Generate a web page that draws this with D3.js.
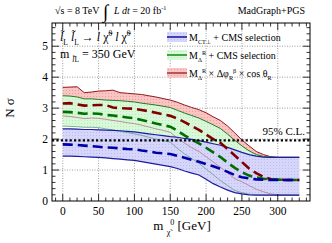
<!DOCTYPE html>
<html>
<head>
<meta charset="utf-8">
<script src="https://cdn.jsdelivr.net/npm/d3@7"></script>
<style>
  body { margin: 0; background: #fff; }
  svg { display: block; }
  text { font-family: 'Liberation Serif', 'Times New Roman', serif; }
</style>
</head>
<body>
<div id="chart"></div>
<script>
// neutralino mass points [GeV]
var massPoints = [0,10,20,30,40,50,60,70,80,90,100,110,120,130,140,150,160,170,180,190,200,210,220,230,240,250,260,270,280,290,300,310,320,330];

// M_Delta^R x dphi x cos theta (red)
var redUp   = [3.67,3.68,3.69,3.50,3.52,3.55,3.56,3.58,3.50,3.48,3.46,3.44,3.40,3.36,3.31,3.26,3.19,3.10,3.02,2.95,2.85,2.72,2.60,2.42,2.20,1.97,1.78,1.60,1.50,1.43,1.41,1.41,1.41,1.41];
var redMid  = [3.15,3.16,3.12,3.08,3.09,3.10,3.10,3.02,3.00,2.99,2.98,2.94,2.90,2.85,2.80,2.75,2.66,2.55,2.42,2.30,2.15,2.00,1.88,1.68,1.47,1.26,1.05,0.90,0.78,0.71,0.69,0.68,0.68,0.68];
var redLow  = [2.75,2.73,2.70,2.66,2.68,2.67,2.64,2.60,2.57,2.53,2.50,2.45,2.39,2.33,2.28,2.22,2.03,1.87,1.72,1.60,1.43,1.26,1.09,0.91,0.72,0.62,0.50,0.38,0.30,0.23,0.20,0.19,0.19,0.19];

// M_Delta^R + CMS selection (green)
var greenUp  = [3.40,3.39,3.36,3.30,3.30,3.28,3.26,3.25,3.24,3.22,3.20,3.16,3.13,3.10,3.06,3.02,2.93,2.84,2.76,2.68,2.57,2.46,2.34,2.16,1.96,1.78,1.62,1.50,1.44,1.42,1.41,1.41,1.41,1.41];
var greenMid = [2.88,2.87,2.85,2.82,2.83,2.82,2.78,2.76,2.73,2.70,2.67,2.62,2.56,2.50,2.45,2.40,2.27,2.12,1.98,1.86,1.72,1.57,1.42,1.24,1.07,0.93,0.82,0.76,0.72,0.70,0.69,0.68,0.68,0.68];
var greenLow = [2.42,2.41,2.40,2.38,2.38,2.37,2.33,2.29,2.25,2.21,2.17,2.12,2.06,2.00,1.95,1.90,1.70,1.52,1.37,1.22,1.03,0.85,0.66,0.50,0.34,0.27,0.22,0.20,0.19,0.19,0.19,0.19,0.19,0.19];

// M_CT_perp + CMS selection (blue)
var blueUp  = [2.33,2.33,2.32,2.31,2.31,2.30,2.29,2.28,2.27,2.25,2.23,2.20,2.17,2.14,2.11,2.08,2.06,2.02,1.99,1.95,1.90,1.85,1.80,1.73,1.65,1.57,1.50,1.45,1.42,1.41,1.41,1.41,1.41,1.41];
var blueMid = [1.83,1.82,1.81,1.79,1.77,1.75,1.73,1.72,1.70,1.68,1.67,1.63,1.60,1.56,1.54,1.52,1.46,1.40,1.33,1.27,1.19,1.12,1.04,0.94,0.84,0.77,0.73,0.70,0.69,0.68,0.68,0.68,0.68,0.68];
var blueLow = [1.45,1.45,1.44,1.43,1.42,1.41,1.39,1.37,1.35,1.33,1.31,1.27,1.23,1.19,1.15,1.11,1.05,0.97,0.90,0.84,0.70,0.56,0.45,0.35,0.27,0.23,0.20,0.19,0.19,0.19,0.19,0.19,0.19,0.19];

var clLevel = 1.96;
var xTicks = [0,50,100,150,200,250,300];
var yTicks = [0,1,2,3,4,5];

var W = 332, H = 243;
var frame = { left: 52, right: 310, top: 23, bottom: 201 };

var svg = d3.select('#chart').append('svg')
    .attr('width', W).attr('height', H);

var x = d3.scaleLinear().domain([-15, 345]).range([frame.left, frame.right]);
var y = d3.scaleLinear().domain([0, 5.75]).range([frame.bottom, frame.top]);

// pattern fills, like ROOT's hatched bands
function makePattern(id, base, lineCol) {
    var p = svg.append('defs').append('pattern')
        .attr('id', id).attr('patternUnits', 'userSpaceOnUse')
        .attr('width', 3).attr('height', 3);
    p.append('rect').attr('width', 3).attr('height', 3).attr('fill', base);
    p.append('rect').attr('x', 0).attr('y', 0).attr('width', 1).attr('height', 1).attr('fill', lineCol);
}
makePattern('fRed', '#fbc4c4', '#f29a9a');
makePattern('fGreen', '#d9f7d9', '#b9ecb9');
makePattern('fBlue', '#d6d6fb', '#bcbcf3');

// grid
var grid = svg.append('g');
xTicks.forEach(function(t) {
    grid.append('line').attr('x1', x(t)).attr('x2', x(t))
        .attr('y1', frame.top).attr('y2', frame.bottom)
        .attr('stroke', '#777').attr('stroke-width', 0.7).attr('stroke-dasharray', '1,1.5');
});
yTicks.slice(1).forEach(function(t) {
    grid.append('line').attr('x1', frame.left).attr('x2', frame.right)
        .attr('y1', y(t)).attr('y2', y(t))
        .attr('stroke', '#777').attr('stroke-width', 0.7).attr('stroke-dasharray', '1,1.5');
});

function band(up, low) {
    return d3.area()
        .x(function(d, i) { return x(massPoints[i]); })
        .y0(function(d, i) { return y(low[i]); })
        .y1(function(d, i) { return y(up[i]); })(up);
}
function line(vals) {
    return d3.line()
        .x(function(d, i) { return x(massPoints[i]); })
        .y(function(d) { return y(d); })(vals);
}

var plot = svg.append('g');
plot.append('path').attr('d', band(redUp, redLow)).attr('fill', 'url(#fRed)');
plot.append('path').attr('d', band(greenUp, greenLow)).attr('fill', 'url(#fGreen)');
plot.append('path').attr('d', band(blueUp, blueLow)).attr('fill', 'url(#fBlue)');

// band edges
plot.append('path').attr('d', line(redLow)).attr('fill', 'none').attr('stroke', '#b07a86').attr('stroke-width', 0.8);
plot.append('path').attr('d', line(greenLow)).attr('fill', 'none').attr('stroke', '#5fa08a').attr('stroke-width', 0.8);
plot.append('path').attr('d', line(redUp)).attr('fill', 'none').attr('stroke', '#8b1a1a').attr('stroke-width', 1);
plot.append('path').attr('d', line(greenUp)).attr('fill', 'none').attr('stroke', '#1f7f1f').attr('stroke-width', 1);
plot.append('path').attr('d', line(blueUp)).attr('fill', 'none').attr('stroke', '#1c1ca0').attr('stroke-width', 1.2);
plot.append('path').attr('d', line(blueLow)).attr('fill', 'none').attr('stroke', '#1c1ca0').attr('stroke-width', 1.2);

// means (dashed)
plot.append('path').attr('d', line(redMid)).attr('fill', 'none').attr('stroke', '#800000').attr('stroke-width', 2.6).attr('stroke-dasharray', '10,5');
plot.append('path').attr('d', line(greenMid)).attr('fill', 'none').attr('stroke', '#006e00').attr('stroke-width', 2.6).attr('stroke-dasharray', '10,5');
plot.append('path').attr('d', line(blueMid)).attr('fill', 'none').attr('stroke', '#0000a8').attr('stroke-width', 2.6).attr('stroke-dasharray', '10,5');

// 95% CL line
svg.append('line').attr('x1', frame.left).attr('x2', frame.right)
    .attr('y1', y(clLevel)).attr('y2', y(clLevel))
    .attr('stroke', '#000').attr('stroke-width', 2.4).attr('stroke-dasharray', '2.2,2.2');
svg.append('text').attr('x', 305).attr('y', y(clLevel) - 5)
    .attr('text-anchor', 'end').attr('font-size', 11).text('95% C.L.');

// frame + ticks
svg.append('rect').attr('x', frame.left).attr('y', frame.top)
    .attr('width', frame.right - frame.left).attr('height', frame.bottom - frame.top)
    .attr('fill', 'none').attr('stroke', '#000').attr('stroke-width', 1);

var ticks = svg.append('g').attr('stroke', '#000').attr('stroke-width', 0.8);
for (var v = -10; v <= 340; v += 10) {
    var big = v % 50 === 0;
    var len = big ? 7 : 3.5;
    ticks.append('line').attr('x1', x(v)).attr('x2', x(v)).attr('y1', frame.bottom).attr('y2', frame.bottom - len);
    ticks.append('line').attr('x1', x(v)).attr('x2', x(v)).attr('y1', frame.top).attr('y2', frame.top + len);
}
for (var k = 1; k <= 28; k++) {
    var yv = k * 0.2;
    var bigY = k % 5 === 0;
    var lenY = bigY ? 7 : 3.5;
    ticks.append('line').attr('x1', frame.left).attr('x2', frame.left + lenY).attr('y1', y(yv)).attr('y2', y(yv));
    ticks.append('line').attr('x1', frame.right).attr('x2', frame.right - lenY).attr('y1', y(yv)).attr('y2', y(yv));
}

xTicks.forEach(function(t) {
    svg.append('text').attr('x', x(t)).attr('y', 215).attr('text-anchor', 'middle')
        .attr('font-size', 11.5).text(t);
});
yTicks.forEach(function(t) {
    svg.append('text').attr('x', 48).attr('y', y(t) + 4).attr('text-anchor', 'end')
        .attr('font-size', 11.5).text(t);
});

// rich text helper: parts = [[text, 'sub'|'sup'|null, italic]]
function rich(g, px, py, parts, size, anchor) {
    var t = g.append('text').attr('x', px).attr('y', py).attr('font-size', size);
    if (anchor) t.attr('text-anchor', anchor);
    var shift = 0;
    parts.forEach(function(p) {
        var ts = t.append('tspan').text(p[0]);
        var target = p[1] === 'sub' ? size * 0.35 : p[1] === 'sup' ? -size * 0.4 : 0;
        ts.attr('dy', target - shift);
        shift = target;
        if (p[1]) ts.attr('font-size', size * 0.62);
        if (p[2]) ts.attr('font-style', 'italic');
    });
    return t;
}

// axis titles
svg.append('text').attr('transform', 'translate(14,108) rotate(-90)')
    .attr('text-anchor', 'middle').attr('font-size', 13).text('N σ');
rich(svg, 182, 230, [['m ', null], ['χ̃', 'sub'], ['0', 'sup'], [' [GeV]', null]], 13, 'middle');

// header
rich(svg, 55, 14, [['√s = 8 TeV ', null]], 10);
svg.append('text').attr('x', 103).attr('y', 18).attr('font-size', 19).text('∫');
rich(svg, 114, 14, [['L dt', null, 1], [' = 20 fb', null], ['-1', 'sup']], 10);
svg.append('text').attr('x', 305).attr('y', 14).attr('text-anchor', 'end')
    .attr('font-size', 10).text('MadGraph+PGS');

// process label
rich(svg, 60, 41, [['l̃', null, 1], ['L', 'sub'], [' l̃', null, 1], ['L', 'sub'], [' → ', null], ['l', null, 1], [' χ̃', null], ['0', 'sup'], [' ', null], ['l', null, 1], [' χ̃', null], ['0', 'sup']], 12);
rich(svg, 60, 58, [['m ', null], ['l̃', 'sub', 1], ['L', 'sub'], [' = 350 GeV', null]], 12);

// legend
var legend = [
    { fill: 'url(#fBlue)', stroke: '#1c1ca0', parts: [['M', null], ['CT⊥', 'sub'], [' + CMS selection', null]] },
    { fill: 'url(#fGreen)', stroke: '#1f8f1f', parts: [['M', null], ['Δ', 'sub'], ['R', 'sup'], [' + CMS selection', null]] },
    { fill: 'url(#fRed)', stroke: '#a04040', parts: [['M', null], ['Δ', 'sub'], ['R', 'sup'], [' × Δφ', null], ['R', 'sub'], ['β', 'sup'], [' × cos θ', null], ['R', 'sub']] }
];
var legY = [37, 55, 73];
legend.forEach(function(d, i) {
    svg.append('rect').attr('x', 167).attr('y', legY[i] - 5).attr('width', 20).attr('height', 10).attr('fill', d.fill);
    svg.append('line').attr('x1', 167).attr('x2', 187).attr('y1', legY[i]).attr('y2', legY[i])
        .attr('stroke', d.stroke).attr('stroke-width', 1.6);
    rich(svg, 189, legY[i] + 3.5, d.parts, 10);
});
</script>
</body>
</html>
